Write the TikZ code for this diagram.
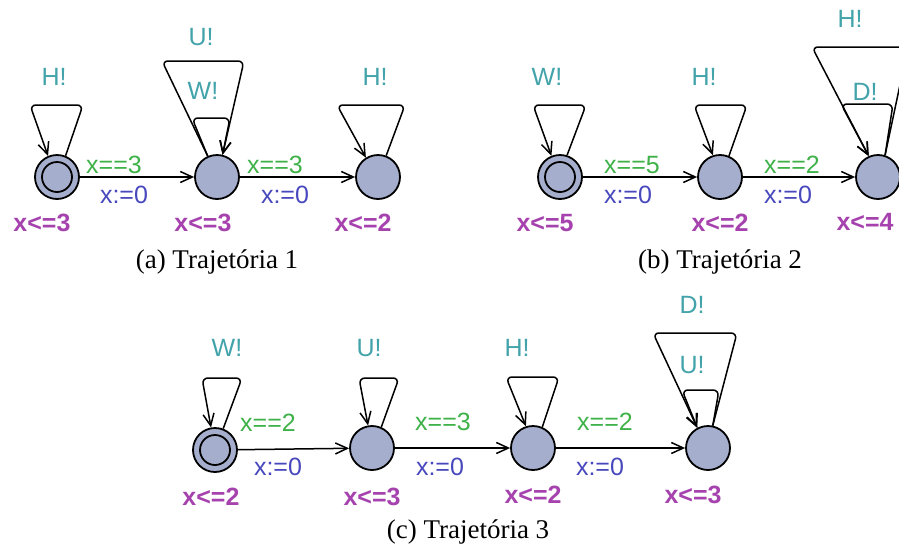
\documentclass[tikz,border=0pt]{standalone}
\usepackage{fontspec}
\setmainfont{Liberation Serif}
\newfontfamily\lblfont{Liberation Sans}
\usetikzlibrary{arrows.meta,calc}

\definecolor{locfill}{RGB}{165,174,205}
\definecolor{synccol}{RGB}{66,163,170}
\definecolor{guardcol}{RGB}{62,178,72}
\definecolor{assigncol}{RGB}{72,72,190}
\definecolor{invcol}{RGB}{166,66,174}

\tikzset{
  loc/.style={circle, draw=black, fill=locfill, line width=1.8pt,
              minimum size=44pt, inner sep=0pt},
  initloc/.style={loc, path picture={\draw[line width=1.8pt]
              (path picture bounding box.center) circle (15pt);}},
  trans/.style={line width=1.5pt, -{Straight Barb[length=12pt,width=11pt,line width=1.5pt]}},
  selfloop/.style={trans, rounded corners=6pt},
  lbl/.style={inner sep=0pt, anchor=center, font=\lblfont\fontsize{25}{29}\selectfont},
  sync/.style={lbl, text=synccol},
  guard/.style={lbl, text=guardcol},
  assign/.style={lbl, text=assigncol},
  inv/.style={lbl, text=invcol, font=\lblfont\bfseries\fontsize{25}{29}\selectfont},
  caption/.style={inner sep=0pt, anchor=center, font=\fontsize{27}{32}\selectfont}
}

\begin{document}
\begin{tikzpicture}[x=1pt,y=-1pt]
\useasboundingbox (0,0) rectangle (899,552);
\clip (0,0) rectangle (899,552);

% ---------------- (a) Trajetoria 1 ----------------
\node[initloc] (a1) at (57,177) {};
\node[loc] (a2) at (217,177) {};
\node[loc] (a3) at (378,177) {};

\draw[trans] (a1) -- (a2);
\draw[trans] (a2) -- (a3);

\draw[selfloop] (a1.68) -- ($(a1)+(26,-72)$) -- ($(a1)+(-27,-72)$) -- (a1.113);
\draw[selfloop] (a2.114) -- ($(a2)+(-55,-116)$) -- ($(a2)+(27,-116)$) -- (a2.76);
\draw[selfloop] (a2.114) -- ($(a2)+(-25,-59)$) -- ($(a2)+(13,-59)$) -- (a2.76);
\draw[selfloop] (a3.69) -- ($(a3)+(27,-72)$) -- ($(a3)+(-41,-72)$) -- (a3.122);

\node[sync] (a1s) at (54,77) {H!};
\node[sync] (a2s1) at (201,37) {U!};
\node[sync] (a2s2) at (203,91) {W!};
\node[sync] (a3s) at (375,77) {H!};
\node[guard] (a12g) at (114,165) {x==3};
\node[assign] (a12a) at (124,195) {x:=0};
\node[guard] (a23g) at (275,165) {x==3};
\node[assign] (a23a) at (285,195) {x:=0};
\node[inv] (a1i) at (42,223) {x<=3};
\node[inv] (a2i) at (203,223) {x<=3};
\node[inv] (a3i) at (363,223) {x<=2};
\node[caption] (acap) at (217,262) {(a) Trajetória 1};

% ---------------- (b) Trajetoria 2 ----------------
\node[initloc] (b1) at (560,177) {};
\node[loc] (b2) at (720,177) {};
\node[loc] (b3) at (878,177) {};

\draw[trans] (b1) -- (b2);
\draw[trans] (b2) -- (b3);

\draw[selfloop] (b1.72) -- ($(b1)+(26,-72)$) -- ($(b1)+(-27,-72)$) -- (b1.112);
\draw[selfloop] (b2.67) -- ($(b2)+(27,-72)$) -- ($(b2)+(-26,-72)$) -- (b2.108);
\draw[selfloop] (b3.72) -- ($(b3)+(30,-130)$) -- ($(b3)+(-66,-130)$) -- (b3.114);
\draw[selfloop] (b3.72) -- ($(b3)+(15,-73)$) -- ($(b3)+(-37,-73)$) -- (b3.114);

\node[sync] (b1s) at (547,77) {W!};
\node[sync] (b2s) at (704,77) {H!};
\node[sync] (b3s1) at (850,19) {H!};
\node[sync] (b3s2) at (865,92) {D!};
\node[guard] (b12g) at (632,165) {x==5};
\node[assign] (b12a) at (628,195) {x:=0};
\node[guard] (b23g) at (792,165) {x==2};
\node[assign] (b23a) at (788,195) {x:=0};
\node[inv] (b1i) at (545,223) {x<=5};
\node[inv] (b2i) at (720,223) {x<=2};
\node[inv] (b3i) at (865,222) {x<=4};
\node[caption] (bcap) at (720,262) {(b) Trajetória 2};

% ---------------- (c) Trajetoria 3 ----------------
\node[initloc] (c1) at (215,450) {};
\node[loc] (c2) at (372,448) {};
\node[loc] (c3) at (533,448) {};
\node[loc] (c4) at (708,448) {};

\draw[trans] (c1) -- (c2);
\draw[trans] (c2) -- (c3);
\draw[trans] (c3) -- (c4);

\draw[selfloop] (c1.69) -- ($(c1)+(27,-72)$) -- ($(c1)+(-13,-72)$) -- (c1.100);
\draw[selfloop] (c2.66) -- ($(c2)+(27,-70)$) -- ($(c2)+(-13,-70)$) -- (c2.100);
\draw[selfloop] (c3.66) -- ($(c3)+(26,-71)$) -- ($(c3)+(-27,-71)$) -- (c3.108);
\draw[selfloop] (c4.78) -- ($(c4)+(29,-115)$) -- ($(c4)+(-55,-115)$) -- (c4.118);
\draw[selfloop] (c4.78) -- ($(c4)+(11,-58)$) -- ($(c4)+(-26,-58)$) -- (c4.118);

\node[sync] (c1s) at (227,348) {W!};
\node[sync] (c2s) at (369,348) {U!};
\node[sync] (c3s) at (517,348) {H!};
\node[sync] (c4s1) at (692,305) {D!};
\node[sync] (c4s2) at (692,365) {U!};
\node[guard] (c12g) at (268,423) {x==2};
\node[assign] (c12a) at (278,467) {x:=0};
\node[guard] (c23g) at (443,422) {x==3};
\node[assign] (c23a) at (440,467) {x:=0};
\node[guard] (c34g) at (605,422) {x==2};
\node[assign] (c34a) at (600,467) {x:=0};
\node[inv] (c1i) at (211,497) {x<=2};
\node[inv] (c2i) at (372,497) {x<=3};
\node[inv] (c3i) at (533,495) {x<=2};
\node[inv] (c4i) at (693,495) {x<=3};
\node[caption] (ccap) at (468,532) {(c) Trajetória 3};
\end{tikzpicture}
\end{document}
